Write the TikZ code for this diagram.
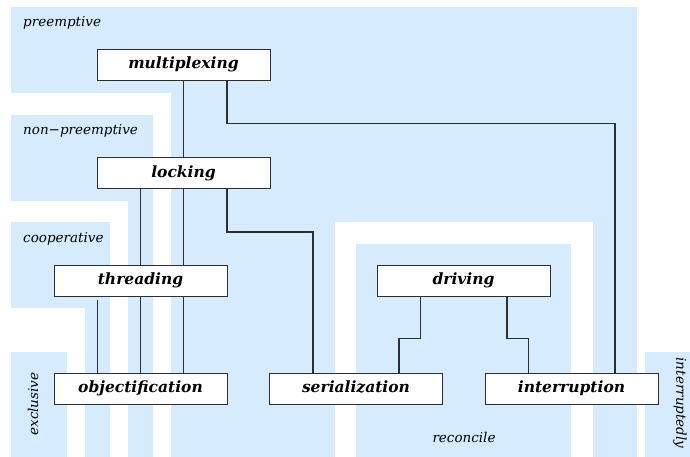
\documentclass[tikz,border=0pt]{standalone}
\usepackage{fontspec}
\setmainfont{DejaVu Serif}
\usepackage{tikz}
\usetikzlibrary{positioning}
\definecolor{regionblue}{HTML}{D6EBFD}
\definecolor{linegray}{HTML}{2E2E2E}
\pgfdeclarelayer{regions}
\pgfdeclarelayer{links}
\pgfsetlayers{regions,links,main}

\begin{document}
\begin{tikzpicture}
[x=1pt,y=-1pt,%
    boxDecorate/.style={shape=rectangle,draw=linegray,fill=white,line width=0.9pt,minimum width=173pt,minimum height=31pt,inner sep=0pt,text height=11.5pt,text depth=3pt,font=\fontsize{15.5}{17}\selectfont\bfseries\itshape},%
    regionLabel/.style={font=\fontsize{13.5}{15}\selectfont\itshape,inner sep=0pt},%
    lineDecorate/.style={draw=linegray,line width=1.3pt}]
    \useasboundingbox (0,0) rectangle (690,457);
    %% regions
    \begin{pgfonlayer}{regions}
        \fill[regionblue] (11,7) rectangle (637,457);
        \fill[white] (0,93) rectangle (171,457);
        \fill[regionblue] (11,115) rectangle (153,457);
        \fill[white] (0,201) rectangle (128,457);
        \fill[regionblue] (11,222) rectangle (110,457);
        \fill[white] (0,308) rectangle (85,457);
        \fill[regionblue] (11,352) rectangle (67,457);
        \fill[white] (335,222) rectangle (593,457);
        \fill[regionblue] (356,244) rectangle (571,457);
        \fill[regionblue] (645,352) rectangle (690,457);
    \end{pgfonlayer}
    %% region labels
    \node (preemptive) at (23,23) [regionLabel,anchor=west] {preemptive};
    \node (nonpreemptive) at (23,131) [regionLabel,anchor=west] {non−preemptive};
    \node (cooperative) at (23,239) [regionLabel,anchor=west] {cooperative};
    \node (exclusive) at (33,404) [regionLabel,rotate=90] {exclusive};
    \node (reconcile) at (464,437) [regionLabel] {reconcile};
    \node (interruptedly) at (680,403) [regionLabel,rotate=-90] {interruptedly};
    %% boxes
    \foreach \nodename/\x/\y in {multiplexing/183.5/64.5, locking/183.5/173, threading/140.5/280.5, objectification/140.5/388.5, serialization/356/388.5, driving/463.5/280.5, interruption/571.5/388.5}
    {
        \node (\nodename) at (\x,\y) [boxDecorate] {\nodename};
    }
    %% edges or lines
    \begin{pgfonlayer}{links}
        \draw[lineDecorate] (multiplexing.south) -- (multiplexing.south |- objectification.north);
        \draw[lineDecorate] ([xshift=43.5pt]multiplexing.south) -- ++(0,43) -| ([xshift=43.5pt]interruption.north);
        \draw[lineDecorate] ([xshift=-43pt]locking.south) -- (objectification.north);
        \draw[lineDecorate] ([xshift=43.5pt]locking.south) -- ++(0,43) -| ([xshift=-43pt]serialization.north);
        \draw[lineDecorate,shorten <=4pt] ([xshift=-43pt]threading.south) -- ([xshift=-43pt]objectification.north);
        \draw[lineDecorate] ([xshift=-43pt]driving.south) -- ++(0,42) -| ([xshift=43pt]serialization.north);
        \draw[lineDecorate] ([xshift=43.5pt]driving.south) -- ++(0,42) -| ([xshift=-43pt]interruption.north);
    \end{pgfonlayer}
\end{tikzpicture}
\end{document}
